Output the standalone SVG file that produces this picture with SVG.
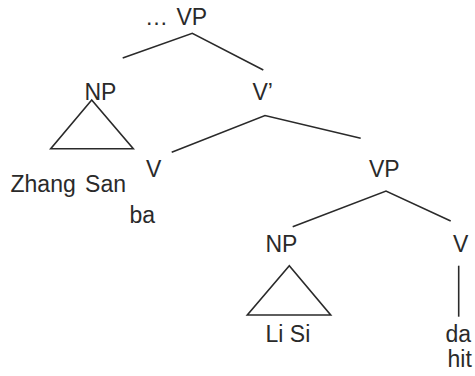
<svg xmlns="http://www.w3.org/2000/svg" width="475" height="376" viewBox="0 0 475 376">
<style>
text{font-family:"Liberation Sans",Arial,sans-serif;font-size:23px;fill:#2a2a2a}
.ln{fill:none;stroke:#2a2a2a;stroke-width:1.6;stroke-linejoin:miter}
</style>
<rect width="475" height="376" fill="#fff"/>
<g id="connectors">
<polyline class="ln" points="122.7,58 192.3,33.3 263.3,70"/>
<polyline class="ln" points="171.7,152.3 265,115.5 360.7,138.3"/>
<polyline class="ln" points="292.7,226.7 386,191 450.7,221"/>
<line class="ln" x1="458.7" y1="265.7" x2="458.7" y2="316.7"/>
</g>
<g id="vp-top"><text x="145" y="25" word-spacing="2">… VP</text></g>
<g id="np-zhangsan">
<text x="84.5" y="100">NP</text>
<polygon class="ln" points="91.7,100 50.7,148.7 133.3,148.7"/>
<text x="10.5" y="192" word-spacing="3">Zhang San</text>
</g>
<g id="vbar"><text x="252.5" y="100">V’</text></g>
<g id="v-ba">
<text x="146" y="177">V</text>
<text x="129.5" y="222.5">ba</text>
</g>
<g id="vp-low"><text x="369" y="177">VP</text></g>
<g id="np-lisi">
<text x="265.5" y="252">NP</text>
<polygon class="ln" points="289.3,265.7 247.3,315 330.7,315"/>
<text x="265.5" y="342">Li Si</text>
</g>
<g id="v-da">
<text x="453" y="252">V</text>
<text x="445.5" y="342">da</text>
<text x="447.5" y="367">hit</text>
</g>
</svg>
